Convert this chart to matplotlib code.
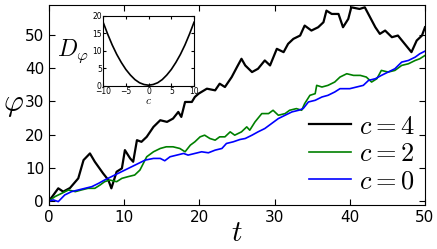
import numpy as np
import matplotlib
matplotlib.use("Agg")
import matplotlib.pyplot as plt

plt.rcParams['mathtext.fontset'] = 'cm'

# valores
t_c4 = [0, 0.5, 1.24, 1.9, 2.8, 3.9, 4.6, 5.45, 6.1, 7.2, 7.9, 8.3, 9.0, 9.7, 10.1,
        10.8, 11.2, 11.7, 12.3, 13.0, 13.9, 14.8, 15.7, 16.5, 17.2, 17.6, 18.1, 19.0,
        19.4, 19.9, 21.0, 22.1, 22.7, 23.4, 24.3, 25.0, 25.6, 26.1, 27.0, 27.8, 28.7,
        29.4, 30.3, 31.2, 31.8, 32.5, 33.4, 34.0, 34.9, 35.8, 36.5, 36.9, 37.6, 38.5,
        39.1, 39.8, 40.2, 41.3, 42.0, 42.7, 43.4, 44.0, 44.7, 45.6, 46.4, 47.3, 48.2,
        48.9, 49.6, 50.0]
phi_c4 = [0, 1.5, 3.8, 2.8, 3.9, 6.8, 12.3, 14.3, 11.8, 8.3, 6.3, 3.8, 8.8, 9.8, 15.3,
          12.8, 11.8, 18.3, 17.8, 19.3, 22.3, 24.3, 23.8, 24.8, 26.8, 25.3, 29.8, 29.8,
          31.3, 32.3, 33.8, 33.3, 35.3, 34.3, 37.3, 40.3, 42.8, 40.8, 38.8, 39.8, 42.3,
          40.8, 45.8, 44.8, 47.3, 48.8, 49.8, 52.8, 51.3, 52.3, 53.8, 57.3, 56.3, 56.3,
          52.3, 54.8, 58.3, 57.8, 58.3, 55.3, 52.3, 50.3, 51.3, 49.3, 49.8, 47.3, 44.8,
          48.3, 49.8, 52.3]

t_c2 = [0, 0.8, 1.7, 2.6, 3.5, 4.3, 5.2, 6.1, 6.8, 7.4, 8.1, 9.0, 9.7, 10.5, 11.4,
        12.1, 13.0, 13.9, 14.8, 15.6, 16.5, 17.4, 18.1, 18.8, 19.4, 20.1, 20.7, 21.4,
        22.1, 22.7, 23.4, 24.1, 24.7, 25.6, 26.3, 26.7, 27.4, 28.3, 29.2, 29.8, 30.5,
        31.4, 32.0, 32.9, 33.6, 34.0, 34.7, 35.4, 35.6, 36.3, 37.1, 38.0, 38.7, 39.6,
        40.5, 41.4, 42.2, 42.9, 43.6, 44.2, 45.1, 46.0, 46.9, 47.8, 48.7, 49.3, 50.0]
phi_c2 = [0, 1.3, 2.3, 3.3, 2.8, 3.3, 3.8, 3.8, 4.8, 5.8, 6.3, 5.8, 6.8, 7.3, 7.8,
          9.3, 13.3, 14.8, 15.8, 16.3, 16.3, 15.8, 14.8, 16.8, 17.8, 19.3, 19.8, 18.8,
          18.3, 19.3, 19.3, 20.8, 19.8, 20.8, 22.3, 21.3, 23.8, 26.3, 26.3, 27.3, 25.8,
          26.3, 27.3, 27.8, 27.3, 29.3, 31.8, 32.3, 34.8, 34.3, 34.8, 35.8, 37.3, 38.3,
          37.8, 37.8, 37.3, 35.8, 36.8, 39.3, 38.8, 39.3, 40.8, 41.3, 42.3, 42.8, 43.8]

t_c0 = [0, 0.6, 1.24, 2.1, 3.0, 3.9, 4.8, 5.7, 6.6, 7.4, 8.3, 9.2, 10.1, 11.0, 11.9,
        12.8, 13.9, 14.8, 15.4, 16.1, 17.0, 17.9, 18.5, 19.4, 20.3, 21.2, 22.1, 23.0,
        23.6, 24.5, 25.4, 26.1, 27.0, 27.8, 28.7, 29.6, 30.5, 31.4, 32.3, 33.2, 33.8,
        34.5, 35.4, 36.3, 37.1, 38.0, 38.7, 40.0, 40.9, 41.8, 42.5, 43.4, 44.2, 45.1,
        46.0, 46.9, 47.8, 48.7, 49.3, 50.0]
phi_c0 = [0, 0.3, -0.2, 1.8, 2.8, 3.3, 3.8, 4.3, 5.3, 6.3, 7.3, 8.3, 9.3, 10.3, 11.3,
          12.3, 12.8, 12.8, 12.1, 13.3, 13.8, 14.3, 13.8, 14.3, 14.8, 14.5, 15.3, 15.8,
          17.3, 17.8, 18.5, 18.8, 19.8, 20.8, 21.8, 23.3, 24.8, 25.8, 26.8, 27.3, 27.8,
          29.8, 30.3, 31.3, 31.8, 32.8, 33.8, 33.8, 34.3, 34.8, 36.3, 36.8, 37.8, 38.8,
          39.8, 41.8, 42.3, 43.3, 44.3, 45.1]

# inset: D_phi frente a c
c_ins = [-10, -9, -8, -7, -6, -5, -4, -3, -2, -1, 0, 1, 2, 3, 4, 5, 6, 7, 8, 9, 10]
D_ins = [18.2, 14.8, 11.7, 9.0, 6.7, 4.7, 3.1, 1.8, 0.9, 0.4, 0.2, 0.4, 0.9, 1.8,
         3.1, 4.7, 6.7, 9.0, 11.7, 14.8, 18.2]

fig = plt.figure(figsize=(4.37, 2.49), dpi=100)
ax = fig.add_axes([0.112, 0.177, 0.8605, 0.803])

ax.plot(t_c4, phi_c4, color='k', lw=1.6, label='$c=4$')
ax.plot(t_c2, phi_c2, color=(0, 0.5, 0), lw=1.2, label='$c=2$')
ax.plot(t_c0, phi_c0, color=(0, 0, 1), lw=1.2, label='$c=0$')

ax.set_xlim(0, 50)
ax.set_ylim(-1.2, 59)
ax.set_xticks([0, 10, 20, 30, 40, 50])
ax.set_yticks([0, 10, 20, 30, 40, 50])
ax.tick_params(direction='in', top=True, right=True, length=4, labelsize=11)
ax.set_xlabel('$t$', fontsize=21, labelpad=-4)
ax.set_ylabel(r'$\varphi$', fontsize=22, rotation=0, labelpad=8, va='center')

leg = ax.legend(loc='lower right', frameon=False, fontsize=19, handlelength=1.6,
                handletextpad=0.3, labelspacing=0.05, borderaxespad=0.0)

# inset
axi = fig.add_axes([0.236, 0.655, 0.208, 0.281])
axi.plot(c_ins, D_ins, color='k', lw=1.2)
axi.set_xlim(-10, 10)
axi.set_ylim(0, 20)
axi.set_xticks([-10, -5, 0, 5, 10])
axi.set_yticks([0, 5, 10, 15, 20])
axi.tick_params(direction='in', top=True, right=True, length=2, labelsize=5.5, pad=1)
axi.set_xlabel('$c$', fontsize=8, labelpad=0)
axi.set_ylabel(r'$D_\varphi$', fontsize=17, rotation=0, labelpad=14, va='center')

fig.savefig('out.png', dpi=100)
